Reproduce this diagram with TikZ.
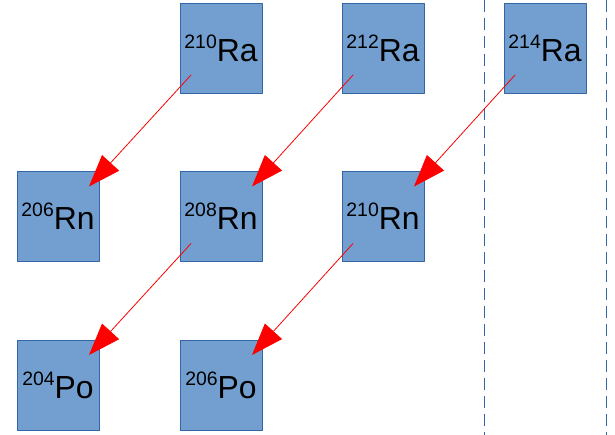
\documentclass[tikz,border=0pt]{standalone}
\usepackage{fontspec}
\setmainfont{Liberation Sans}
\usepackage{tikz}
\usetikzlibrary{arrows.meta}
\usetikzlibrary{calc}
\definecolor{boxfill}{RGB}{114,159,207}
\definecolor{boxline}{RGB}{52,101,164}
\newcommand{\iso}[2]{\raisebox{13bp}{\fontsize{19.5}{22}\selectfont #1}#2}
\tikzset{
  nuc/.style={draw=boxline,fill=boxfill,line width=0.8bp,minimum width=82bp,minimum height=90bp,inner sep=0pt,font=\fontsize{32}{36}\selectfont},
  decay/.style={red,line width=0.8bp,-{Triangle[length=32bp,width=23bp]}}
}
\begin{document}
\begin{tikzpicture}[line join=round,x=1bp,y=-1bp]
% Draw region settings
\useasboundingbox (0,0) rectangle (615,435);
% Separators
\draw[boxline,line width=1bp,dash pattern=on 12bp off 6bp] (484.5,0) -- (484.5,435);
\draw[boxline,line width=1bp,dash pattern=on 12bp off 6bp] (606,0) -- (606,435);
% Nuclei
\node[nuc] (ra210) at (221,48) {\iso{210}{Ra}};
\node[nuc] (ra212) at (383,48) {\iso{212}{Ra}};
\node[nuc] (ra214) at (545,48) {\iso{214}{Ra}};
\node[nuc] (rn206) at (58,216.5) {\iso{206}{Rn}};
\node[nuc] (rn208) at (221,216.5) {\iso{208}{Rn}};
\node[nuc] (rn210) at (383,216.5) {\iso{210}{Rn}};
\node[nuc] (po204) at (58,385) {\iso{204}{Po}};
\node[nuc] (po206) at (221,385) {\iso{206}{Po}};
% Alpha decays
\draw[decay] ($(ra210.center)+(-30,27)$) -- ($(rn206.center)+(31,-30)$);
\draw[decay] ($(ra212.center)+(-30,27)$) -- ($(rn208.center)+(31,-30)$);
\draw[decay] ($(ra214.center)+(-30,27)$) -- ($(rn210.center)+(31,-30)$);
\draw[decay] ($(rn208.center)+(-30,27)$) -- ($(po204.center)+(31,-30)$);
\draw[decay] ($(rn210.center)+(-30,27)$) -- ($(po206.center)+(31,-30)$);
\end{tikzpicture}
\end{document}
